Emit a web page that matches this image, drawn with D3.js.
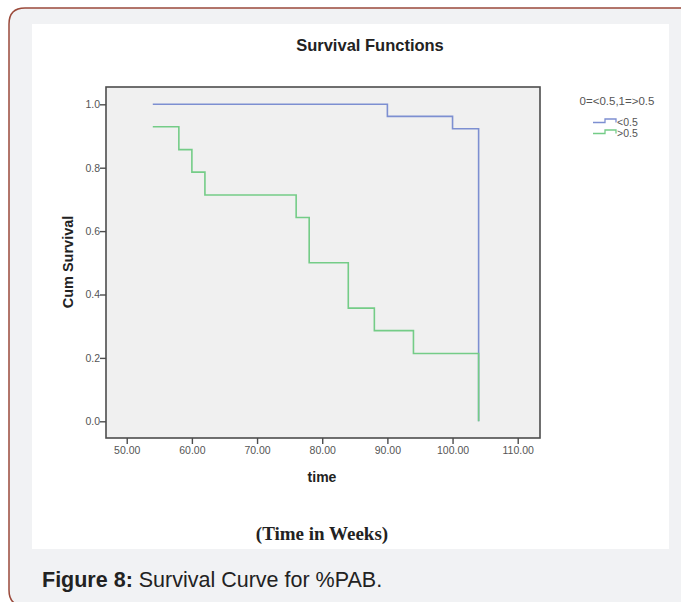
<!DOCTYPE html>
<html>
<head>
<meta charset="utf-8">
<script src="https://cdn.jsdelivr.net/npm/d3@7"></script>
<style>
  html, body { margin: 0; padding: 0; background: #fff; }
  svg { display: block; }
</style>
</head>
<body>
<svg id="chart" width="681" height="602"></svg>
<script>
// survival steps
const lowTimes = [54, 90, 100, 104];
const lowSurv = [1.0, 0.962, 0.923, 0.0];
const highTimes = [54, 58, 60, 62, 76, 78, 84, 88, 94, 104];
const highSurv = [0.929, 0.857, 0.786, 0.714, 0.643, 0.5, 0.357, 0.286, 0.214, 0.0];

const xTicks = [50, 60, 70, 80, 90, 100, 110];
const yTicks = [0, 0.2, 0.4, 0.6, 0.8, 1.0];
const groupLabels = ["<0.5", ">0.5"];
const groupColors = ["#7d8fd1", "#74cc87"];

const sans = "Liberation Sans, Arial, sans-serif";
const svg = d3.select("#chart");

// card + border
svg.append("rect").attr("x", 0).attr("y", 0).attr("width", 681).attr("height", 602).attr("fill", "#fff");
svg.append("path")
    .attr("d", "M 690 8 L 25 8 Q 9 8 9 24 L 9 590 Q 9 606 25 606 L 690 606 Z")
    .attr("fill", "#f1f2f4")
    .attr("stroke", "#9b4a3b")
    .attr("stroke-width", 1.5);
svg.append("rect").attr("x", 32).attr("y", 24).attr("width", 637).attr("height", 525).attr("fill", "#fff");

const plot = {left: 106, top: 87, right: 540, bottom: 438};

const x = d3.scaleLinear().domain([46.82, 113.42]).range([plot.left, plot.right]);
const y = d3.scaleLinear().domain([-0.0527, 1.0546]).range([plot.bottom, plot.top]);

svg.append("rect")
    .attr("x", plot.left).attr("y", plot.top)
    .attr("width", plot.right - plot.left).attr("height", plot.bottom - plot.top)
    .attr("fill", "#f0f0f0")
    .attr("stroke", "#4d4d4d")
    .attr("stroke-width", 1.6);

const xAxis = svg.append("g")
    .attr("transform", `translate(0,${plot.bottom})`)
    .call(d3.axisBottom(x).tickValues(xTicks).tickFormat(d3.format(".2f")).tickSize(6).tickSizeOuter(0));
const yAxis = svg.append("g")
    .attr("transform", `translate(${plot.left},0)`)
    .call(d3.axisLeft(y).tickValues(yTicks).tickFormat(d3.format(".1f")).tickSize(6).tickSizeOuter(0));

[xAxis, yAxis].forEach(a => {
    a.select(".domain").remove();
    a.selectAll(".tick line").attr("stroke", "#4d4d4d").attr("stroke-width", 1.4);
    a.selectAll(".tick text")
        .attr("fill", "#555")
        .style("font-family", sans)
        .style("font-size", "10.5px");
});
xAxis.selectAll(".tick text").attr("dy", "0.9em").attr("y", 7);
yAxis.selectAll(".tick text").attr("x", -6);

const line = d3.line()
    .x(d => x(d[0]))
    .y(d => y(d[1]))
    .curve(d3.curveStepAfter);

const series = [
    d3.zip(lowTimes, lowSurv),
    d3.zip(highTimes, highSurv)
];

series.forEach((s, i) => {
    svg.append("path")
        .datum(s)
        .attr("fill", "none")
        .attr("stroke", groupColors[i])
        .attr("stroke-width", 1.6)
        .attr("d", line);
});

// titles
svg.append("text")
    .attr("x", 370).attr("y", 51)
    .attr("text-anchor", "middle")
    .style("font-family", sans)
    .style("font-weight", "bold")
    .style("font-size", "16.5px")
    .attr("fill", "#222")
    .text("Survival Functions");

svg.append("text")
    .attr("x", 322).attr("y", 482)
    .attr("text-anchor", "middle")
    .style("font-family", sans)
    .style("font-weight", "bold")
    .style("font-size", "14px")
    .attr("fill", "#222")
    .text("time");

svg.append("text")
    .attr("transform", "translate(73,262) rotate(-90)")
    .attr("text-anchor", "middle")
    .style("font-family", sans)
    .style("font-weight", "bold")
    .style("font-size", "14.5px")
    .attr("fill", "#222")
    .text("Cum Survival");

svg.append("text")
    .attr("x", 322).attr("y", 540)
    .attr("text-anchor", "middle")
    .style("font-family", "Liberation Serif, Times New Roman, serif")
    .style("font-weight", "bold")
    .style("font-size", "19px")
    .attr("fill", "#222")
    .text("(Time in Weeks)");

// legend
svg.append("text")
    .attr("x", 617).attr("y", 105)
    .attr("text-anchor", "middle")
    .style("font-family", sans)
    .style("font-size", "11.5px")
    .attr("fill", "#555")
    .text("0=<0.5,1=>0.5");

groupLabels.forEach((lab, i) => {
    const ly = 122.5 + i * 11;
    svg.append("path")
        .attr("d", `M 593 ${ly} H 605 V ${ly - 3.5} H 616 V ${ly}`)
        .attr("fill", "none")
        .attr("stroke", groupColors[i])
        .attr("stroke-width", 1.3);
    svg.append("text")
        .attr("x", 617).attr("y", ly + 3)
        .style("font-family", sans)
        .style("font-size", "10.5px")
        .attr("fill", "#555")
        .text(lab);
});

// caption
const cap = svg.append("text")
    .attr("x", 42).attr("y", 587)
    .style("font-family", sans)
    .style("font-size", "21.5px")
    .attr("fill", "#222");
cap.append("tspan").style("font-weight", "bold").text("Figure 8:");
cap.append("tspan").text(" Survival Curve for %PAB.");
</script>
</body>
</html>
